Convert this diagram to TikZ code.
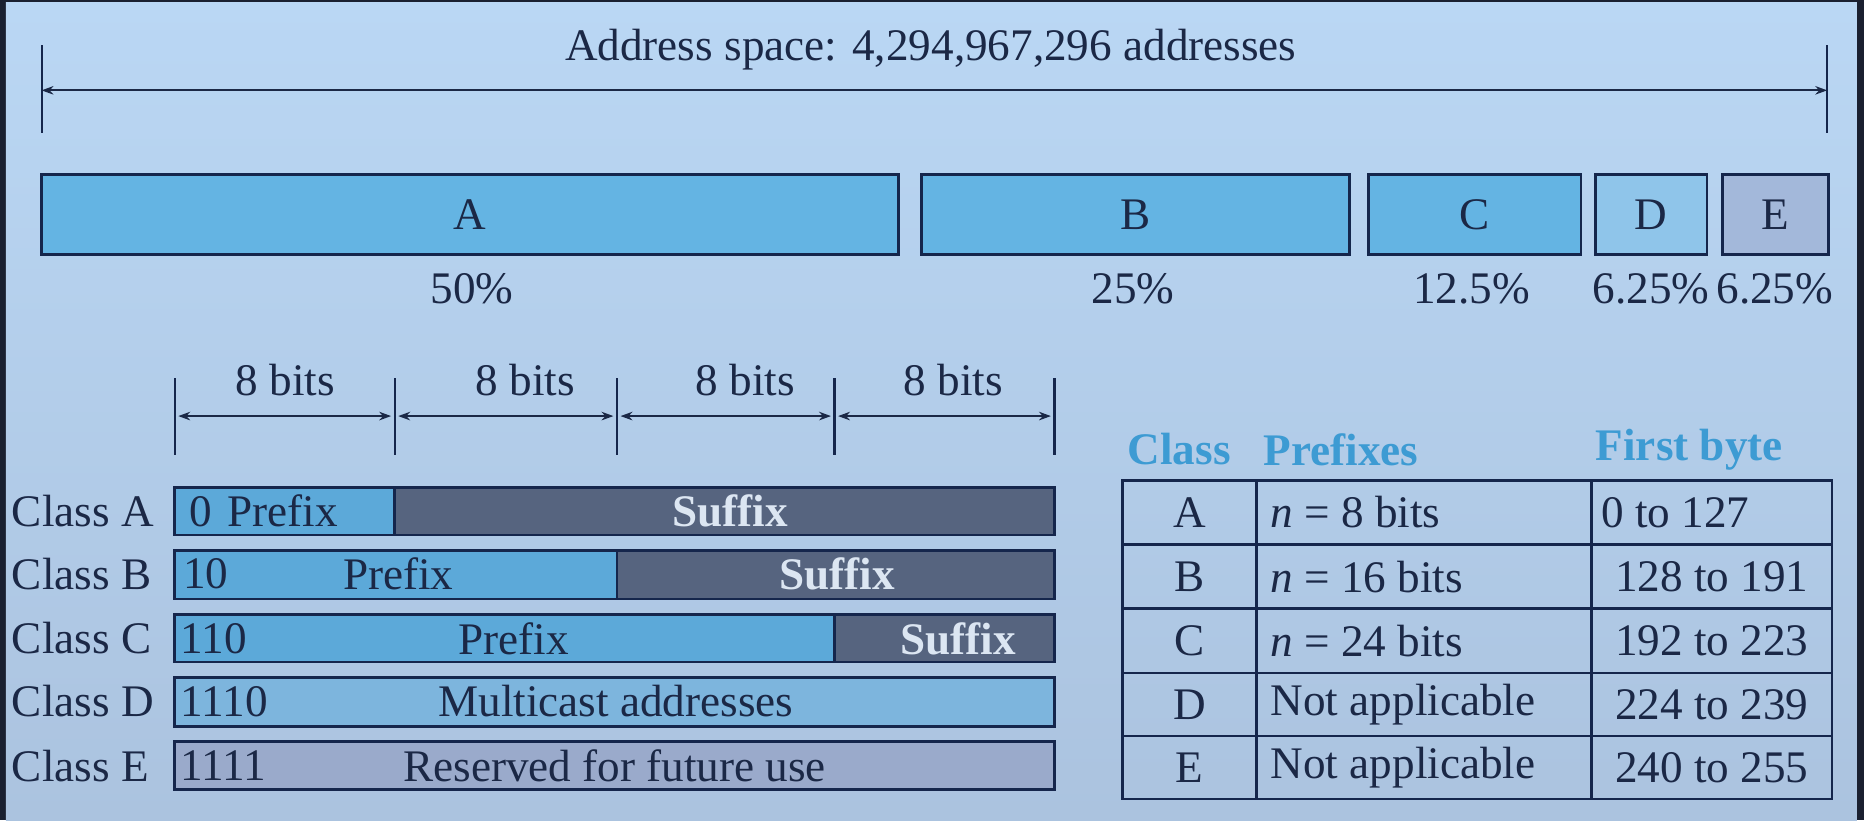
\documentclass[tikz,border=0pt]{standalone}
\usepackage{fontspec}
\setmainfont{Liberation Serif}
\usetikzlibrary{arrows.meta,fit}
\definecolor{ink}{HTML}{1B2846}
\definecolor{edge}{HTML}{15264C}
\definecolor{framec}{HTML}{1A2030}
\definecolor{bgtop}{HTML}{BAD7F4}
\definecolor{bgbot}{HTML}{ABC3DF}
\definecolor{clsfill}{HTML}{64B4E3}
\definecolor{dfill}{HTML}{8FC5EA}
\definecolor{efill}{HTML}{A3B8DA}
\definecolor{prefill}{HTML}{5CA9D9}
\definecolor{suffill}{HTML}{56647F}
\definecolor{rowd}{HTML}{7DB5DD}
\definecolor{rowe}{HTML}{9AAACB}
\definecolor{headc}{HTML}{3D9BD3}
\definecolor{suftext}{HTML}{DCE6F2}
\begin{document}
\begin{tikzpicture}[x=0.5pt,y=-0.5pt,
  font=\fontsize{19}{22}\selectfont, text=ink,
  cbox/.style={draw=edge, line width=1.1pt, inner sep=0pt},
  tick/.style={draw=edge, line width=0.9pt},
  dim/.style={draw=ink, line width=0.8pt, {Stealth[length=5pt,width=3.6pt]}-{Stealth[length=5pt,width=3.6pt]}},
  sufx/.style={font=\fontsize{19}{22}\selectfont\bfseries, text=suftext},
  head/.style={font=\fontsize{19}{22}\selectfont\bfseries, text=headc},
  cell/.style={draw=edge, line width=1.1pt, inner sep=0pt}]
\useasboundingbox (0,0) rectangle (1568,690);
\fill[framec] (0,0) rectangle (1568,690);
\shade[top color=bgtop, bottom color=bgbot] (5,2) rectangle (1562,690);

% address space
\node (title) at (783,42) {Address space: 4,294,967,296 addresses};
\coordinate (Lt) at (35,38); \coordinate (Lb) at (35,112);
\coordinate (Rt) at (1537,38); \coordinate (Rb) at (1537,112);
\coordinate (La) at (35,76); \coordinate (Ra) at (1537,76);
\draw[tick] (Lt) -- (Lb);
\draw[tick] (Rt) -- (Rb);
\draw[dim] (La) -- (Ra);

% class blocks
\node[cbox, fill=clsfill, fit={(35,147) (756,214)}] (bA) {};
\node[cbox, fill=clsfill, fit={(775,147) (1135,214)}] (bB) {};
\node[cbox, fill=clsfill, fit={(1151,147) (1330,214)}] (bC) {};
\node[cbox, fill=dfill, fit={(1342,147) (1436,214)}] (bD) {};
\node[cbox, fill=efill, fit={(1449,147) (1538,214)}] (bE) {};
\node (lA) at (bA.center) {A};
\node (lB) at (bB.center) {B};
\node (lC) at (bC.center) {C};
\node (lD) at (bD.center) {D};
\node (lE) at (bE.center) {E};
\node (pA) at (397,243) {50\%};
\node (pB) at (953,243) {25\%};
\node (pC) at (1238,243) {12.5\%};
\node (pD) at (1389,243) {6.25\%};
\node (pE) at (1493,243) {6.25\%};

% bit dimensions
\foreach \i/\x in {0/147,1/332,2/519,3/702,4/887}{
  \coordinate (T\i t) at (\x,318);
  \coordinate (T\i b) at (\x,383);
  \draw[tick] (T\i t) -- (T\i b);
}
\foreach \i/\a/\b in {0/150/329,1/335/516,2/522/699,3/705/884}{
  \coordinate (D\i a) at (\a,350);
  \coordinate (D\i b) at (\b,350);
  \draw[dim] (D\i a) -- (D\i b);
}
\node (bits0) at (240,320) {8 bits};
\node (bits1) at (442,320) {8 bits};
\node (bits2) at (627,320) {8 bits};
\node (bits3) at (802,320) {8 bits};

% class rows
\node[anchor=west] (cA) at (3,430) {Class A};
\node[anchor=west] (cB) at (3,483) {Class B};
\node[anchor=west] (cC) at (3,537) {Class C};
\node[anchor=west] (cD) at (3,590) {Class D};
\node[anchor=west] (cE) at (3,644) {Class E};

\node[cbox, fill=prefill, fit={(147,410) (332,450)}] (rAp) {};
\node[cbox, fill=suffill, fit={(332,410) (887,450)}] (rAs) {};
\node[cbox, fill=prefill, fit={(147,463) (519,504)}] (rBp) {};
\node[cbox, fill=suffill, fit={(519,463) (887,504)}] (rBs) {};
\node[cbox, fill=prefill, fit={(147,517) (702,557)}] (rCp) {};
\node[cbox, fill=suffill, fit={(702,517) (887,557)}] (rCs) {};
\node[cbox, fill=rowd, fit={(147,570) (887,611)}] (rD) {};
\node[cbox, fill=rowe, fit={(147,624) (887,664)}] (rE) {};

\node[anchor=west] (tA) at (152,430) {0\hspace{0.35em}Prefix};
\node[anchor=west] (tB) at (147,483) {10};
\node (tBp) at (335,483) {Prefix};
\node[anchor=west] (tC) at (145,537) {110};
\node (tCp) at (432,537) {Prefix};
\node[anchor=west] (tD) at (145,590) {1110};
\node (tDm) at (518,590) {Multicast addresses};
\node[anchor=west] (tE) at (145,644) {1111};
\node (tEm) at (517,644) {Reserved for future use};
\node[sufx] (sA) at (614,430) {Suffix};
\node[sufx] (sB) at (704,483) {Suffix};
\node[sufx] (sC) at (806,537) {Suffix};

% table
\node[head] (hC) at (992,378) {Class};
\node[head] (hP) at (1128,378) {Prefixes};
\node[head] (hF) at (1421,378) {First byte};
\foreach \r/\ya/\yb in {1/404/458,2/458/512,3/512/566,4/566/619,5/619/672}{
  \node[cell, fit={(944,\ya) (1057,\yb)}] (k\r) {};
  \node[cell, fit={(1057,\ya) (1339,\yb)}] (p\r) {};
  \node[cell, fit={(1339,\ya) (1541,\yb)}] (f\r) {};
}
\node at (k1.center) {A};
\node at (k2.center) {B};
\node at (k3.center) {C};
\node at (k4.center) {D};
\node at (k5.center) {E};
\node[anchor=west] at ([xshift=3pt]p1.west) {\textit{n} = 8 bits};
\node[anchor=west] at ([xshift=3pt]p2.west) {\textit{n} = 16 bits};
\node[anchor=west] at ([xshift=3pt]p3.west) {\textit{n} = 24 bits};
\node[anchor=west] at ([xshift=3pt]p4.west) {Not applicable};
\node[anchor=west] at ([xshift=3pt]p5.west) {Not applicable};
\node[anchor=west] at ([xshift=1pt]f1.west) {0 to 127};
\node at (f2.center) {128 to 191};
\node at (f3.center) {192 to 223};
\node at (f4.center) {224 to 239};
\node at (f5.center) {240 to 255};
\end{tikzpicture}
\end{document}
